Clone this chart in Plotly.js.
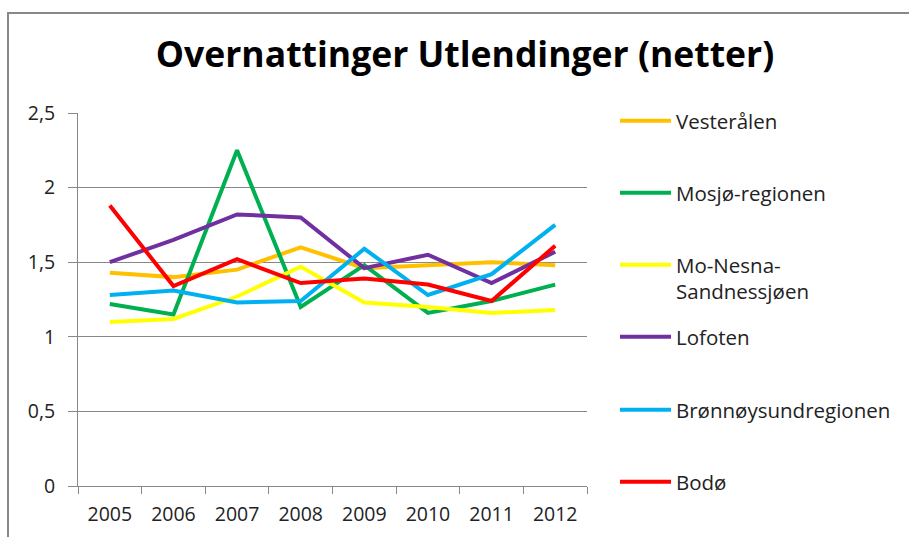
<!DOCTYPE html>
<html>
<head>
<meta charset="utf-8">
<script src="https://cdn.plot.ly/plotly-3.0.1.min.js"></script>
<style>html,body{margin:0;padding:0;background:#fff;}#chart{width:909px;height:537px;}</style>
</head>
<body>
<div id="chart"></div>
<script>
const years = ['2005','2006','2007','2008','2009','2010','2011','2012'];
const seriesNames = ['Vesterålen','Mosjø-regionen','Mo-Nesna-<br>Sandnessjøen','Lofoten','Brønnøysundregionen','Bodø'];
const vesteralen = [1.43, 1.40, 1.45, 1.60, 1.46, 1.48, 1.50, 1.48];
const mosjo      = [1.22, 1.15, 2.25, 1.20, 1.48, 1.16, 1.24, 1.35];
const moNesna    = [1.10, 1.12, 1.27, 1.47, 1.23, 1.20, 1.16, 1.18];
const lofoten    = [1.50, 1.65, 1.82, 1.80, 1.46, 1.55, 1.36, 1.57];
const bronnoy    = [1.28, 1.31, 1.23, 1.24, 1.59, 1.28, 1.42, 1.75];
const bodo       = [1.88, 1.34, 1.52, 1.36, 1.39, 1.35, 1.24, 1.61];
const seriesValues = [vesteralen, mosjo, moNesna, lofoten, bronnoy, bodo];
const colors = ['#FFC000','#00B050','#FFFF00','#7030A0','#00B0F0','#FF0000'];
const legendCentersPx = [121, 193, 265, 337, 410, 482];

const W = 909, H = 537;
const mL = 78, mR = 322, mT = 113, mB = 51;
const plotW = W - mL - mR, plotH = H - mT - mB;

const traces = seriesNames.map((name, i) => ({
  type: 'scatter', mode: 'lines', name: name,
  x: years, y: seriesValues[i],
  line: {color: colors[i], width: 4},
  legend: i === 0 ? 'legend' : 'legend' + (i + 1),
  hoverinfo: 'x+y+name'
}));

const FAM = '"Open Sans", Lato, sans-serif';
const layout = {
  width: W, height: H,
  margin: {l: mL, r: mR, t: mT, b: mB},
  paper_bgcolor: '#fff', plot_bgcolor: '#fff',
  separators: ',.',
  font: {family: FAM, color: '#222'},
  title: {
    text: '<b>Overnattinger Utlendinger (netter)</b>',
    font: {family: FAM, size: 35.5, color: '#000'},
    x: 465 / W, xref: 'container', xanchor: 'center',
    y: 1 - 55 / H, yref: 'container', yanchor: 'middle'
  },
  xaxis: {
    type: 'category', range: [-0.5, 7.5],
    tickson: 'boundaries', ticks: 'outside', ticklen: 7, tickcolor: '#888', tickwidth: 1,
    showline: true, linecolor: '#888', linewidth: 1,
    showgrid: false, zeroline: false,
    tickfont: {family: FAM, size: 19.5, color: '#222'},
    ticklabelstandoff: 11
  },
  yaxis: {
    range: [0, 2.5], dtick: 0.5, tick0: 0,
    ticks: 'outside', ticklen: 9, tickcolor: '#888', tickwidth: 1,
    showline: true, linecolor: '#888', linewidth: 1,
    showgrid: true, gridcolor: '#888', gridwidth: 1,
    zeroline: false,
    tickfont: {family: FAM, size: 19.5, color: '#222'},
    ticklabelstandoff: 9
  },
  showlegend: true,
  shapes: [{
    type: 'rect', xref: 'paper', yref: 'paper',
    x0: (8 - mL) / plotW, x1: 2,
    y0: -1, y1: (H - mB - 13) / plotH,
    line: {color: '#888', width: 2}, fillcolor: 'rgba(0,0,0,0)', layer: 'below'
  }]
};

seriesNames.forEach((n, i) => {
  const key = i === 0 ? 'legend' : 'legend' + (i + 1);
  layout[key] = {
    x: (615 - mL) / plotW, xanchor: 'left',
    y: (H - mB - legendCentersPx[i]) / plotH, yanchor: 'middle',
    bgcolor: 'rgba(0,0,0,0)', borderwidth: 0,
    font: {family: FAM, size: 20.5, color: '#222'},
    itemwidth: 51, valign: 'top'
  };
});
// two-line entry: anchor its top so the first line sits at its center
layout.legend3.yanchor = 'top';
layout.legend3.y = (H - mB - (legendCentersPx[2] - 20)) / plotH;

Plotly.newPlot('chart', traces, layout, {displayModeBar: false, staticPlot: true});
</script>
</body>
</html>
